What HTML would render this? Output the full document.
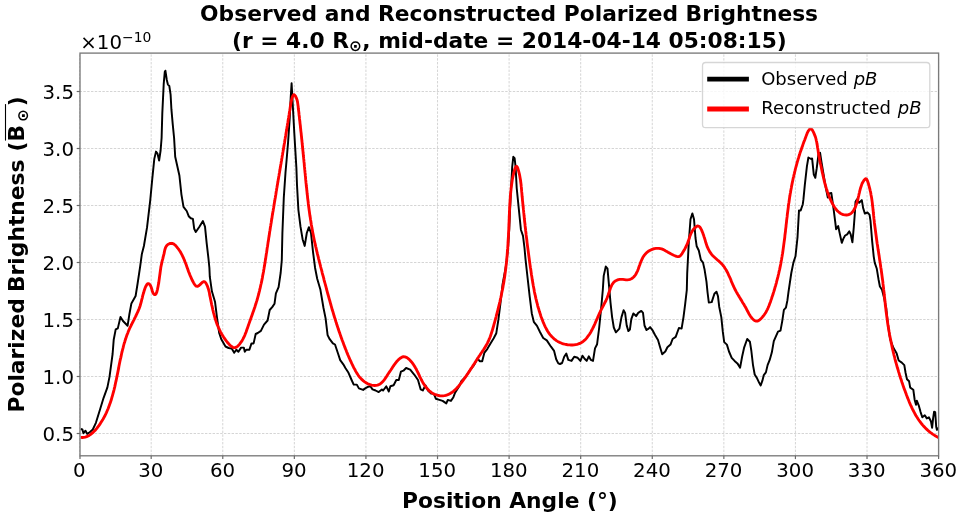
<!DOCTYPE html>
<html lang="en">
<head>
<meta charset="utf-8">
<title>Observed and Reconstructed Polarized Brightness</title>
<style>
html,body{margin:0;padding:0;background:#fff;}
body{width:960px;height:518px;overflow:hidden;}
svg{display:block;font-family:"DejaVu Sans","Liberation Sans",sans-serif;}
text{fill:#000;white-space:pre;}
.tk{font-size:19.8px;}
.lb{font-size:21.78px;font-weight:bold;}
.lg{font-size:18.0px;}
.it{font-style:italic;}
.rg{font-weight:normal;}
</style>
</head>
<body>
<svg width="960" height="518" viewBox="0 0 960 518">
<rect x="0" y="0" width="960" height="518" fill="#ffffff"/>
<g stroke="#b0b0b0" stroke-opacity="0.68" stroke-width="0.8" stroke-dasharray="2.4,1.4" fill="none">
<line x1="79.60" y1="455.8" x2="79.60" y2="53.1"/>
<line x1="151.18" y1="455.8" x2="151.18" y2="53.1"/>
<line x1="222.77" y1="455.8" x2="222.77" y2="53.1"/>
<line x1="294.35" y1="455.8" x2="294.35" y2="53.1"/>
<line x1="365.93" y1="455.8" x2="365.93" y2="53.1"/>
<line x1="437.52" y1="455.8" x2="437.52" y2="53.1"/>
<line x1="509.10" y1="455.8" x2="509.10" y2="53.1"/>
<line x1="580.68" y1="455.8" x2="580.68" y2="53.1"/>
<line x1="652.27" y1="455.8" x2="652.27" y2="53.1"/>
<line x1="723.85" y1="455.8" x2="723.85" y2="53.1"/>
<line x1="795.43" y1="455.8" x2="795.43" y2="53.1"/>
<line x1="867.02" y1="455.8" x2="867.02" y2="53.1"/>
<line x1="938.60" y1="455.8" x2="938.60" y2="53.1"/>
<line x1="79.6" y1="433.50" x2="938.6" y2="433.50"/>
<line x1="79.6" y1="376.50" x2="938.6" y2="376.50"/>
<line x1="79.6" y1="319.50" x2="938.6" y2="319.50"/>
<line x1="79.6" y1="262.50" x2="938.6" y2="262.50"/>
<line x1="79.6" y1="205.50" x2="938.6" y2="205.50"/>
<line x1="79.6" y1="148.50" x2="938.6" y2="148.50"/>
<line x1="79.6" y1="91.50" x2="938.6" y2="91.50"/>
</g>
<clipPath id="ax"><rect x="79.6" y="53.1" width="859" height="402.7"/></clipPath>
<g clip-path="url(#ax)" fill="none" stroke-linejoin="round" stroke-linecap="butt">
<path d="M80.7,429.0 L82.4,429.5 L83.4,433.2 L85.5,430.7 L87.2,433.9 L89.7,432.2 L92.8,429.5 L95.9,422.8 L100.1,409.3 L103.6,397.8 L107.4,387.4 L109.5,376.9 L111.2,364.4 L112.6,354.0 L113.7,339.8 L115.7,329.4 L117.8,328.4 L120.5,316.9 L123.0,321.0 L127.6,325.7 L129.3,314.8 L131.4,303.4 L135.6,296.0 L137.6,283.5 L140.1,266.9 L141.8,254.3 L143.9,246.0 L147.0,227.7 L150.2,200.6 L152.2,179.7 L154.3,158.9 L156.0,151.6 L157.5,153.6 L159.1,160.5 L160.6,150.5 L161.6,138.0 L162.3,113.4 L163.7,84.2 L164.8,71.7 L165.4,70.7 L166.8,80.0 L167.9,84.6 L169.3,85.9 L170.6,94.6 L171.4,109.2 L172.7,123.8 L174.1,138.0 L175.2,156.8 L179.4,175.5 L181.4,194.3 L183.5,206.8 L186.7,211.0 L188.7,216.2 L190.8,218.3 L192.9,218.9 L194.2,228.8 L195.8,232.0 L199.4,226.7 L202.9,221.1 L205.0,226.7 L206.7,243.4 L208.4,258.0 L209.4,268.0 L209.8,276.7 L211.9,291.3 L215.0,301.7 L217.1,318.4 L219.2,333.0 L221.3,339.2 L225.5,346.5 L228.6,348.0 L231.7,348.6 L234.2,352.8 L236.3,349.7 L238.4,351.8 L241.1,347.6 L243.8,347.6 L244.8,351.8 L246.3,349.7 L249.4,349.7 L251.5,343.4 L253.6,343.4 L255.7,334.0 L257.8,333.0 L260.9,330.9 L264.0,324.6 L267.6,320.5 L269.7,310.0 L272.4,306.9 L274.5,303.8 L275.9,293.4 L278.6,287.1 L280.7,272.5 L281.8,260.0 L282.4,233.0 L283.8,197.5 L285.5,172.5 L286.6,160.0 L288.0,143.4 L289.7,118.4 L290.7,97.5 L291.6,83.3 L292.6,101.7 L294.3,133.0 L296.4,168.0 L297.0,185.0 L298.4,210.0 L300.5,226.7 L302.6,239.2 L304.7,245.9 L306.8,233.0 L308.9,227.2 L311.0,233.0 L313.0,251.8 L315.1,268.0 L317.2,278.8 L320.3,289.2 L323.5,308.0 L325.6,318.4 L327.6,335.1 L329.7,339.2 L332.9,343.4 L335.0,344.5 L338.1,353.8 L340.2,360.1 L343.3,364.3 L345.4,368.0 L348.5,372.8 L351.6,380.0 L353.7,384.6 L356.8,384.6 L358.9,388.4 L363.1,389.9 L365.2,388.4 L368.3,386.7 L370.4,386.3 L372.5,389.4 L375.6,390.5 L378.7,392.1 L381.9,389.4 L383.1,390.5 L386.3,386.3 L388.8,391.5 L390.4,386.3 L393.6,385.3 L396.3,380.0 L398.8,380.0 L400.9,371.7 L403.4,370.7 L406.1,368.0 L410.2,369.6 L414.4,374.8 L418.0,380.0 L420.7,389.4 L422.8,390.5 L425.5,385.3 L428.0,390.5 L431.1,393.6 L433.8,393.6 L435.9,398.8 L439.4,399.9 L442.6,400.9 L446.3,403.4 L447.8,399.9 L450.9,400.9 L453.4,397.2 L455.1,392.6 L459.2,386.3 L461.3,381.1 L465.5,376.9 L469.7,370.7 L473.8,365.5 L477.6,358.2 L479.7,361.3 L482.2,361.3 L484.3,352.9 L487.4,348.8 L490.5,343.6 L493.7,338.3 L496.3,333.2 L498.4,319.7 L500.5,303.0 L502.6,284.2 L505.7,267.5 L507.8,250.9 L509.2,230.0 L510.5,200.0 L512.2,167.0 L513.3,156.8 L514.6,158.2 L515.6,167.0 L516.7,188.0 L518.8,208.8 L520.9,229.7 L523.0,235.9 L524.5,248.0 L525.5,259.2 L527.6,278.0 L529.7,296.7 L531.8,313.4 L533.8,321.8 L537.0,325.9 L540.1,332.2 L543.2,338.0 L546.8,340.4 L551.0,346.7 L554.1,350.9 L556.2,359.2 L558.3,363.4 L560.0,364.0 L562.1,363.0 L564.2,356.7 L566.3,353.6 L568.3,359.9 L571.5,360.9 L574.2,356.7 L577.7,357.8 L580.4,360.9 L582.5,355.7 L584.6,358.8 L586.7,360.9 L588.8,356.3 L590.9,359.9 L593.0,360.9 L595.0,348.4 L597.1,344.2 L599.2,327.5 L601.3,306.7 L602.8,290.0 L603.7,275.9 L605.8,266.5 L607.5,268.6 L608.9,284.2 L610.5,302.5 L612.1,317.1 L613.8,327.5 L615.9,332.3 L619.4,328.6 L621.5,317.1 L623.6,310.2 L625.1,312.9 L626.7,325.5 L628.4,331.1 L629.9,329.6 L631.3,319.2 L633.4,313.4 L636.1,316.1 L638.2,312.9 L641.3,310.9 L643.0,312.9 L644.5,325.5 L646.5,330.0 L648.6,328.6 L650.1,327.1 L652.8,330.7 L654.9,334.8 L658.0,340.0 L660.1,347.3 L662.2,354.2 L665.3,351.5 L667.4,347.3 L670.5,344.6 L672.6,339.0 L675.7,336.9 L678.9,328.0 L681.6,328.6 L683.5,317.1 L685.1,304.6 L686.8,290.0 L687.2,273.4 L688.8,242.1 L690.5,219.2 L692.4,213.4 L694.0,219.2 L695.5,238.0 L696.7,246.3 L698.8,250.5 L700.9,259.9 L703.0,262.6 L704.5,269.2 L706.5,281.8 L707.5,292.0 L708.8,302.5 L711.7,302.1 L714.4,293.8 L716.5,291.7 L718.0,296.3 L719.2,306.7 L721.3,317.1 L722.8,331.7 L724.2,342.1 L726.9,344.6 L729.0,351.5 L731.7,357.8 L734.6,360.9 L737.4,363.4 L740.1,367.6 L742.1,356.7 L744.2,347.3 L747.2,339.0 L749.9,341.7 L751.3,350.5 L753.0,365.1 L754.7,374.5 L757.2,378.6 L759.2,382.8 L760.7,385.5 L762.4,380.7 L763.8,375.1 L765.9,372.4 L767.6,365.1 L769.7,359.9 L771.8,352.6 L773.8,341.1 L775.9,336.3 L778.0,331.7 L780.5,330.7 L782.2,321.3 L783.9,309.8 L785.9,307.7 L787.4,300.4 L788.5,291.8 L791.3,273.0 L793.4,262.6 L795.5,256.3 L797.5,237.5 L799.0,210.4 L800.7,210.4 L802.8,204.2 L803.4,199.7 L804.8,185.1 L806.9,166.3 L808.4,157.5 L811.1,159.0 L812.1,158.4 L813.8,174.7 L815.3,177.8 L816.7,168.4 L818.4,154.8 L820.1,152.8 L821.5,162.1 L823.6,174.7 L825.7,187.2 L827.8,197.6 L829.2,193.4 L831.3,193.0 L832.6,201.8 L834.0,212.2 L835.1,220.9 L836.1,229.2 L838.2,226.1 L839.7,233.4 L841.8,242.8 L843.4,238.6 L845.1,235.5 L847.2,234.4 L849.3,231.3 L850.7,234.4 L852.4,242.3 L853.8,227.1 L854.9,212.5 L855.5,201.8 L857.0,199.3 L859.1,202.8 L861.8,200.1 L863.2,208.3 L864.9,213.6 L867.4,212.5 L869.5,214.6 L870.5,220.9 L872.2,241.7 L873.7,256.3 L874.7,262.6 L876.8,268.8 L878.5,279.2 L879.9,286.5 L882.0,289.7 L884.1,298.0 L886.2,308.0 L887.5,320.0 L889.0,332.0 L890.3,339.6 L893.5,348.0 L896.6,353.2 L898.7,360.5 L901.8,362.6 L904.3,365.1 L905.6,373.0 L907.0,379.2 L909.1,381.3 L910.2,387.6 L913.3,389.7 L914.7,400.0 L916.0,404.8 L916.8,400.7 L918.9,405.9 L920.6,412.1 L922.3,417.3 L924.8,415.3 L926.8,418.4 L928.9,417.3 L931.0,421.5 L932.1,427.8 L933.1,418.4 L934.1,411.7 L935.2,412.1 L936.2,426.7 L936.9,429.9 L938.3,427.8" stroke="#000000" stroke-width="1.95"/>
<path d="M80.7,437.4 L82.3,437.5 L83.8,437.3 L85.2,437.1 L86.6,436.6 L87.9,436.1 L89.2,435.4 L90.4,434.6 L91.6,433.7 L92.8,432.7 L93.9,431.6 L95.0,430.5 L96.0,429.3 L97.0,428.1 L97.9,426.9 L98.9,425.6 L99.8,424.4 L100.6,423.1 L101.4,421.8 L102.2,420.5 L103.0,419.2 L103.7,417.9 L104.5,416.6 L105.1,415.3 L105.8,413.9 L106.4,412.6 L107.0,411.2 L107.6,409.8 L108.2,408.5 L108.7,407.1 L109.2,405.7 L109.7,404.3 L110.2,402.9 L110.7,401.5 L111.2,400.1 L111.6,398.7 L112.0,397.2 L112.4,395.8 L112.8,394.4 L113.2,392.9 L113.6,391.5 L114.0,390.0 L114.3,388.6 L114.7,387.1 L115.0,385.6 L115.3,384.2 L115.6,382.7 L116.0,381.2 L116.3,379.8 L116.6,378.3 L116.9,376.8 L117.2,375.3 L117.5,373.9 L117.8,372.4 L118.1,370.9 L118.4,369.4 L118.7,367.9 L118.9,366.5 L119.2,365.0 L119.5,363.5 L119.8,362.0 L120.1,360.5 L120.4,359.1 L120.8,357.6 L121.1,356.1 L121.4,354.7 L121.7,353.2 L122.1,351.7 L122.4,350.3 L122.8,348.8 L123.2,347.4 L123.5,346.0 L123.9,344.5 L124.3,343.1 L124.8,341.7 L125.2,340.2 L125.7,338.8 L126.1,337.4 L126.6,336.0 L127.1,334.6 L127.7,333.2 L128.2,331.8 L128.8,330.4 L129.4,329.0 L130.0,327.7 L130.7,326.3 L131.3,325.0 L132.0,323.6 L132.7,322.3 L133.4,320.9 L134.1,319.6 L134.7,318.2 L135.4,316.9 L136.1,315.5 L136.7,314.2 L137.3,312.8 L138.0,311.4 L138.5,310.1 L139.1,308.7 L139.6,307.3 L140.1,305.9 L140.5,304.5 L140.9,303.1 L141.3,301.7 L141.6,300.2 L142.0,298.8 L142.4,297.3 L142.7,295.8 L143.1,294.4 L143.6,292.8 L144.0,291.3 L144.5,289.8 L145.0,288.3 L145.6,286.8 L146.3,285.5 L147.0,284.3 L147.8,283.6 L148.7,283.6 L149.6,284.3 L150.5,285.6 L151.2,287.3 L151.8,289.2 L152.3,291.0 L152.9,292.7 L153.6,293.9 L154.5,294.6 L155.4,294.5 L156.1,293.7 L156.7,292.4 L157.1,290.8 L157.5,289.3 L157.8,287.7 L158.1,286.2 L158.4,284.6 L158.7,283.1 L158.9,281.6 L159.1,280.1 L159.3,278.6 L159.5,277.1 L159.7,275.6 L159.9,274.2 L160.1,272.7 L160.3,271.2 L160.5,269.8 L160.7,268.4 L160.9,266.9 L161.2,265.5 L161.5,264.1 L161.8,262.6 L162.1,261.2 L162.5,259.8 L162.9,258.4 L163.2,256.9 L163.6,255.4 L164.0,253.9 L164.3,252.4 L164.6,250.8 L165.0,249.2 L165.5,247.7 L166.2,246.3 L167.1,245.1 L168.4,244.2 L169.8,243.5 L171.2,243.3 L172.6,243.5 L173.9,244.1 L175.0,245.0 L176.1,246.1 L177.1,247.3 L178.0,248.5 L178.9,249.7 L179.8,251.0 L180.6,252.3 L181.3,253.6 L182.0,254.9 L182.7,256.3 L183.3,257.6 L183.9,259.0 L184.5,260.4 L185.0,261.8 L185.6,263.2 L186.1,264.6 L186.6,266.0 L187.1,267.4 L187.6,268.8 L188.1,270.3 L188.6,271.7 L189.2,273.1 L189.7,274.5 L190.3,275.9 L190.9,277.2 L191.5,278.6 L192.1,280.0 L192.8,281.3 L193.5,282.6 L194.3,284.0 L195.2,285.3 L196.2,286.2 L197.4,286.4 L198.6,285.8 L200.0,284.7 L201.3,283.3 L202.6,282.2 L203.8,281.6 L204.9,281.9 L205.8,282.9 L206.6,284.4 L207.3,285.8 L207.8,287.2 L208.3,288.7 L208.7,290.1 L209.1,291.5 L209.4,292.9 L209.6,294.4 L209.9,295.9 L210.2,297.3 L210.5,298.8 L210.8,300.3 L211.1,301.8 L211.4,303.3 L211.7,304.8 L212.1,306.3 L212.4,307.8 L212.7,309.3 L213.1,310.8 L213.4,312.3 L213.8,313.7 L214.2,315.1 L214.6,316.6 L215.0,318.0 L215.4,319.4 L215.9,320.8 L216.3,322.2 L216.8,323.5 L217.3,324.9 L217.9,326.2 L218.5,327.6 L219.1,328.9 L219.7,330.2 L220.4,331.6 L221.1,332.9 L221.8,334.2 L222.6,335.5 L223.4,336.8 L224.3,338.1 L225.2,339.4 L226.1,340.7 L227.1,342.0 L228.2,343.2 L229.3,344.5 L230.4,345.6 L231.6,346.6 L232.8,347.3 L234.0,347.6 L235.2,347.6 L236.3,347.2 L237.5,346.4 L238.6,345.3 L239.6,344.1 L240.5,342.9 L241.4,341.7 L242.2,340.4 L242.9,339.1 L243.6,337.7 L244.3,336.4 L244.9,335.0 L245.4,333.6 L246.0,332.2 L246.5,330.8 L247.0,329.3 L247.5,327.9 L248.0,326.5 L248.5,325.1 L249.0,323.6 L249.5,322.2 L250.0,320.8 L250.5,319.4 L251.0,318.0 L251.5,316.6 L252.0,315.2 L252.5,313.7 L253.0,312.3 L253.5,310.9 L254.0,309.5 L254.5,308.1 L255.0,306.7 L255.4,305.2 L255.9,303.8 L256.3,302.4 L256.8,300.9 L257.2,299.5 L257.6,298.1 L258.0,296.6 L258.4,295.2 L258.8,293.7 L259.1,292.3 L259.5,290.8 L259.8,289.4 L260.2,287.9 L260.5,286.5 L260.8,285.0 L261.2,283.5 L261.5,282.1 L261.8,280.6 L262.1,279.1 L262.4,277.7 L262.6,276.2 L262.9,274.7 L263.2,273.3 L263.5,271.8 L263.7,270.3 L264.0,268.8 L264.2,267.3 L264.5,265.9 L264.7,264.4 L265.0,262.9 L265.2,261.4 L265.4,259.9 L265.7,258.4 L265.9,256.9 L266.1,255.5 L266.3,254.0 L266.6,252.5 L266.8,251.0 L267.0,249.5 L267.2,248.0 L267.5,246.5 L267.7,245.1 L267.9,243.6 L268.1,242.1 L268.4,240.6 L268.6,239.1 L268.8,237.6 L269.1,236.1 L269.3,234.7 L269.5,233.2 L269.7,231.7 L270.0,230.2 L270.2,228.7 L270.4,227.2 L270.7,225.8 L270.9,224.3 L271.2,222.8 L271.4,221.3 L271.6,219.8 L271.9,218.4 L272.1,216.9 L272.3,215.4 L272.6,213.9 L272.8,212.4 L273.1,211.0 L273.3,209.5 L273.6,208.0 L273.8,206.5 L274.0,205.0 L274.3,203.6 L274.5,202.1 L274.8,200.6 L275.0,199.1 L275.3,197.7 L275.5,196.2 L275.8,194.7 L276.0,193.2 L276.2,191.7 L276.5,190.3 L276.7,188.8 L277.0,187.3 L277.2,185.8 L277.5,184.4 L277.7,182.9 L278.0,181.4 L278.2,179.9 L278.5,178.4 L278.7,177.0 L279.0,175.5 L279.2,174.0 L279.5,172.5 L279.7,171.1 L280.0,169.6 L280.2,168.1 L280.5,166.6 L280.7,165.1 L281.0,163.7 L281.2,162.2 L281.5,160.7 L281.7,159.2 L282.0,157.8 L282.2,156.3 L282.5,154.8 L282.7,153.3 L283.0,151.8 L283.2,150.4 L283.5,148.9 L283.7,147.4 L284.0,145.9 L284.2,144.4 L284.5,143.0 L284.7,141.5 L284.9,140.0 L285.2,138.5 L285.4,137.0 L285.7,135.5 L285.9,134.1 L286.2,132.6 L286.4,131.1 L286.7,129.6 L286.9,128.1 L287.1,126.6 L287.4,125.2 L287.6,123.7 L287.9,122.2 L288.1,120.7 L288.3,119.2 L288.6,117.7 L288.8,116.3 L289.1,114.8 L289.3,113.3 L289.5,111.8 L289.8,110.3 L290.0,108.9 L290.2,107.4 L290.5,105.9 L290.7,104.5 L290.9,103.0 L291.2,101.5 L291.5,100.1 L291.9,98.5 L292.4,96.9 L293.0,95.5 L293.7,94.6 L294.6,95.0 L295.5,96.2 L296.3,97.8 L296.9,99.4 L297.3,100.9 L297.6,102.4 L297.8,103.9 L298.0,105.4 L298.2,106.8 L298.3,108.3 L298.5,109.8 L298.7,111.3 L298.9,112.7 L299.0,114.2 L299.2,115.7 L299.4,117.2 L299.5,118.7 L299.7,120.2 L299.9,121.7 L300.0,123.1 L300.2,124.6 L300.4,126.1 L300.5,127.6 L300.7,129.1 L300.8,130.6 L301.0,132.1 L301.2,133.6 L301.3,135.1 L301.5,136.5 L301.6,138.0 L301.8,139.5 L301.9,141.0 L302.1,142.5 L302.2,144.0 L302.4,145.5 L302.5,147.0 L302.7,148.5 L302.8,150.0 L303.0,151.5 L303.1,153.0 L303.3,154.5 L303.4,156.0 L303.6,157.5 L303.7,158.9 L303.9,160.4 L304.0,161.9 L304.2,163.4 L304.3,164.9 L304.4,166.4 L304.6,167.9 L304.7,169.4 L304.9,170.9 L305.0,172.4 L305.2,173.9 L305.3,175.4 L305.5,176.9 L305.6,178.4 L305.7,179.9 L305.9,181.4 L306.0,182.9 L306.2,184.3 L306.3,185.8 L306.5,187.3 L306.7,188.8 L306.8,190.3 L307.0,191.8 L307.1,193.3 L307.3,194.8 L307.5,196.3 L307.6,197.8 L307.8,199.2 L308.0,200.7 L308.2,202.2 L308.3,203.7 L308.5,205.2 L308.7,206.7 L308.9,208.2 L309.1,209.7 L309.3,211.1 L309.5,212.6 L309.7,214.1 L309.9,215.6 L310.2,217.1 L310.4,218.6 L310.6,220.0 L310.9,221.5 L311.1,223.0 L311.3,224.5 L311.6,226.0 L311.8,227.4 L312.1,228.9 L312.4,230.4 L312.6,231.9 L312.9,233.3 L313.2,234.8 L313.5,236.3 L313.8,237.8 L314.1,239.2 L314.4,240.7 L314.7,242.2 L315.1,243.6 L315.4,245.1 L315.7,246.6 L316.1,248.0 L316.4,249.5 L316.7,251.0 L317.1,252.4 L317.4,253.9 L317.8,255.4 L318.2,256.8 L318.5,258.3 L318.9,259.8 L319.2,261.2 L319.6,262.7 L320.0,264.1 L320.4,265.6 L320.7,267.0 L321.1,268.5 L321.5,269.9 L321.9,271.4 L322.2,272.8 L322.6,274.3 L323.0,275.7 L323.4,277.2 L323.8,278.6 L324.1,280.1 L324.5,281.5 L324.9,283.0 L325.3,284.4 L325.7,285.9 L326.1,287.3 L326.4,288.7 L326.8,290.2 L327.2,291.6 L327.6,293.1 L328.0,294.5 L328.4,295.9 L328.8,297.4 L329.2,298.8 L329.6,300.2 L330.0,301.7 L330.4,303.1 L330.8,304.5 L331.2,306.0 L331.6,307.4 L332.0,308.8 L332.4,310.3 L332.9,311.7 L333.3,313.1 L333.7,314.5 L334.1,316.0 L334.6,317.4 L335.0,318.8 L335.5,320.3 L335.9,321.7 L336.4,323.1 L336.8,324.6 L337.3,326.0 L337.8,327.4 L338.2,328.8 L338.7,330.3 L339.2,331.7 L339.7,333.1 L340.2,334.6 L340.7,336.0 L341.2,337.4 L341.7,338.8 L342.2,340.3 L342.8,341.7 L343.3,343.1 L343.8,344.6 L344.4,346.0 L344.9,347.4 L345.5,348.9 L346.1,350.3 L346.6,351.7 L347.2,353.1 L347.8,354.6 L348.4,356.0 L349.0,357.4 L349.6,358.8 L350.2,360.2 L350.9,361.5 L351.5,362.9 L352.1,364.2 L352.8,365.6 L353.4,366.9 L354.1,368.2 L354.8,369.4 L355.4,370.7 L356.1,371.9 L356.8,373.1 L357.6,374.3 L358.4,375.5 L359.2,376.6 L360.2,377.8 L361.2,378.9 L362.3,379.9 L363.4,380.9 L364.7,381.9 L366.0,382.7 L367.3,383.5 L368.7,384.2 L370.2,384.7 L371.6,385.1 L373.1,385.4 L374.6,385.5 L376.1,385.4 L377.5,385.1 L378.9,384.6 L380.2,383.9 L381.4,382.9 L382.6,381.8 L383.6,380.6 L384.6,379.3 L385.6,377.9 L386.5,376.6 L387.3,375.3 L388.1,374.0 L388.9,372.8 L389.7,371.6 L390.5,370.5 L391.3,369.3 L392.1,368.1 L392.9,366.8 L393.7,365.6 L394.6,364.3 L395.5,363.1 L396.5,361.8 L397.5,360.7 L398.6,359.6 L399.8,358.5 L401.0,357.7 L402.3,357.0 L403.6,356.7 L405.0,356.8 L406.3,357.3 L407.6,358.1 L408.8,359.1 L410.0,360.3 L411.1,361.5 L412.1,362.7 L413.0,363.9 L413.9,365.2 L414.7,366.5 L415.4,367.7 L416.2,369.0 L416.8,370.4 L417.5,371.7 L418.1,373.0 L418.8,374.4 L419.4,375.7 L420.0,377.1 L420.7,378.4 L421.4,379.8 L422.1,381.1 L422.8,382.4 L423.6,383.7 L424.4,385.0 L425.3,386.3 L426.2,387.5 L427.1,388.6 L428.2,389.7 L429.2,390.8 L430.4,391.7 L431.6,392.6 L432.8,393.4 L434.2,394.1 L435.6,394.7 L437.1,395.2 L438.6,395.5 L440.1,395.8 L441.6,395.9 L443.0,395.8 L444.5,395.7 L445.8,395.4 L447.2,394.9 L448.5,394.4 L449.8,393.8 L451.0,393.0 L452.2,392.2 L453.4,391.3 L454.5,390.3 L455.6,389.3 L456.7,388.2 L457.8,387.0 L458.8,385.9 L459.8,384.6 L460.8,383.4 L461.8,382.1 L462.7,380.9 L463.6,379.6 L464.5,378.4 L465.4,377.1 L466.3,375.9 L467.1,374.6 L468.0,373.4 L468.8,372.1 L469.6,370.9 L470.4,369.6 L471.2,368.4 L472.0,367.2 L472.8,365.9 L473.6,364.7 L474.4,363.5 L475.2,362.2 L476.0,361.0 L476.8,359.8 L477.6,358.5 L478.4,357.3 L479.2,356.0 L480.1,354.8 L480.9,353.5 L481.8,352.2 L482.7,350.9 L483.5,349.7 L484.3,348.4 L485.2,347.1 L485.9,345.8 L486.7,344.5 L487.4,343.1 L488.0,341.8 L488.7,340.5 L489.2,339.1 L489.8,337.7 L490.3,336.4 L490.8,335.0 L491.3,333.6 L491.7,332.2 L492.2,330.8 L492.6,329.4 L493.0,328.0 L493.4,326.6 L493.8,325.2 L494.2,323.7 L494.6,322.3 L495.0,320.9 L495.4,319.4 L495.8,318.0 L496.2,316.5 L496.5,315.0 L496.9,313.6 L497.3,312.1 L497.7,310.6 L498.1,309.2 L498.4,307.7 L498.8,306.2 L499.2,304.7 L499.5,303.2 L499.9,301.8 L500.2,300.3 L500.5,298.8 L500.9,297.3 L501.2,295.8 L501.5,294.3 L501.8,292.8 L502.1,291.3 L502.4,289.9 L502.7,288.4 L503.0,286.9 L503.2,285.4 L503.5,283.9 L503.8,282.4 L504.0,281.0 L504.2,279.5 L504.5,278.0 L504.7,276.5 L504.9,275.0 L505.1,273.6 L505.3,272.1 L505.5,270.6 L505.7,269.1 L505.9,267.6 L506.0,266.2 L506.2,264.7 L506.4,263.2 L506.5,261.7 L506.7,260.2 L506.8,258.8 L506.9,257.3 L507.1,255.8 L507.2,254.3 L507.3,252.9 L507.4,251.4 L507.5,249.9 L507.7,248.4 L507.8,246.9 L507.9,245.4 L508.0,243.9 L508.0,242.5 L508.1,241.0 L508.2,239.5 L508.3,238.0 L508.4,236.5 L508.5,235.0 L508.5,233.5 L508.6,232.0 L508.7,230.5 L508.8,229.0 L508.8,227.5 L508.9,226.0 L508.9,224.5 L509.0,223.0 L509.1,221.5 L509.1,220.0 L509.2,218.4 L509.2,216.9 L509.3,215.4 L509.4,213.9 L509.4,212.4 L509.5,210.9 L509.6,209.3 L509.6,207.8 L509.7,206.3 L509.8,204.8 L509.9,203.3 L510.0,201.8 L510.1,200.3 L510.2,198.8 L510.3,197.3 L510.4,195.8 L510.5,194.3 L510.7,192.8 L510.8,191.4 L511.0,189.9 L511.1,188.4 L511.3,187.0 L511.5,185.5 L511.7,184.1 L511.9,182.6 L512.1,181.2 L512.3,179.8 L512.6,178.3 L512.9,176.8 L513.2,175.3 L513.6,173.7 L514.0,172.1 L514.4,170.4 L514.9,168.8 L515.5,167.4 L516.0,166.5 L516.6,166.3 L517.2,166.9 L517.7,168.0 L518.2,169.6 L518.7,171.4 L519.2,173.3 L519.6,175.1 L519.9,176.8 L520.2,178.5 L520.5,180.1 L520.7,181.7 L520.9,183.2 L521.1,184.7 L521.2,186.2 L521.4,187.6 L521.5,189.1 L521.6,190.5 L521.7,191.9 L521.9,193.4 L522.0,194.8 L522.1,196.3 L522.3,197.7 L522.4,199.2 L522.5,200.6 L522.7,202.1 L522.8,203.6 L523.0,205.0 L523.1,206.5 L523.3,208.0 L523.4,209.4 L523.6,210.9 L523.7,212.4 L523.9,213.9 L524.0,215.3 L524.2,216.8 L524.3,218.3 L524.5,219.8 L524.6,221.3 L524.8,222.7 L525.0,224.2 L525.1,225.7 L525.3,227.2 L525.5,228.7 L525.6,230.2 L525.8,231.7 L526.0,233.2 L526.1,234.7 L526.3,236.1 L526.5,237.6 L526.7,239.1 L526.9,240.6 L527.0,242.1 L527.2,243.6 L527.4,245.1 L527.6,246.6 L527.8,248.1 L528.0,249.6 L528.2,251.1 L528.4,252.6 L528.6,254.1 L528.8,255.6 L529.0,257.1 L529.2,258.6 L529.4,260.1 L529.6,261.6 L529.8,263.1 L530.0,264.6 L530.2,266.0 L530.4,267.5 L530.7,269.0 L530.9,270.5 L531.1,272.0 L531.3,273.5 L531.5,275.0 L531.8,276.5 L532.0,277.9 L532.2,279.4 L532.5,280.9 L532.7,282.4 L533.0,283.9 L533.2,285.3 L533.5,286.8 L533.8,288.3 L534.1,289.8 L534.3,291.2 L534.6,292.7 L534.9,294.2 L535.3,295.6 L535.6,297.1 L535.9,298.6 L536.3,300.0 L536.6,301.5 L537.0,302.9 L537.4,304.4 L537.7,305.8 L538.1,307.3 L538.6,308.7 L539.0,310.1 L539.4,311.6 L539.9,313.0 L540.4,314.4 L540.8,315.9 L541.3,317.3 L541.9,318.7 L542.4,320.1 L542.9,321.5 L543.5,322.9 L544.1,324.3 L544.7,325.7 L545.4,327.1 L546.1,328.4 L546.8,329.7 L547.5,331.0 L548.3,332.2 L549.1,333.4 L550.0,334.6 L551.0,335.7 L551.9,336.8 L553.0,337.8 L554.0,338.8 L555.2,339.7 L556.4,340.6 L557.7,341.4 L559.0,342.1 L560.4,342.7 L561.8,343.3 L563.3,343.8 L564.8,344.2 L566.4,344.5 L567.9,344.8 L569.5,344.9 L571.0,345.0 L572.6,345.0 L574.1,344.9 L575.6,344.6 L577.0,344.3 L578.4,343.9 L579.8,343.4 L581.1,342.7 L582.3,342.0 L583.5,341.1 L584.6,340.2 L585.6,339.2 L586.6,338.1 L587.5,336.9 L588.4,335.7 L589.3,334.5 L590.1,333.2 L590.9,331.9 L591.6,330.5 L592.3,329.2 L593.0,327.8 L593.7,326.5 L594.3,325.1 L594.9,323.8 L595.5,322.4 L596.1,321.0 L596.7,319.6 L597.3,318.3 L597.9,316.9 L598.5,315.5 L599.1,314.1 L599.8,312.8 L600.4,311.4 L601.0,310.1 L601.7,308.7 L602.4,307.4 L603.1,306.0 L603.8,304.7 L604.5,303.3 L605.2,302.0 L605.9,300.7 L606.5,299.3 L607.1,298.0 L607.6,296.6 L608.1,295.2 L608.5,293.8 L609.0,292.4 L609.5,291.0 L610.0,289.5 L610.5,288.0 L611.1,286.6 L611.8,285.1 L612.6,283.8 L613.5,282.6 L614.5,281.6 L615.7,280.8 L617.0,280.2 L618.4,279.7 L619.9,279.4 L621.4,279.3 L622.9,279.4 L624.5,279.6 L626.0,279.8 L627.4,279.9 L628.8,279.7 L630.2,279.3 L631.4,278.7 L632.6,278.0 L633.7,277.0 L634.6,276.0 L635.5,274.8 L636.3,273.5 L636.9,272.2 L637.6,270.8 L638.2,269.3 L638.7,267.8 L639.2,266.3 L639.8,264.8 L640.3,263.3 L640.9,261.8 L641.5,260.4 L642.1,259.0 L642.8,257.6 L643.6,256.3 L644.4,255.1 L645.4,254.0 L646.4,252.9 L647.6,251.9 L648.8,251.0 L650.2,250.2 L651.6,249.6 L653.0,249.0 L654.5,248.6 L656.0,248.4 L657.5,248.3 L658.9,248.3 L660.3,248.6 L661.6,248.9 L662.9,249.4 L664.2,250.0 L665.4,250.7 L666.7,251.4 L668.0,252.2 L669.4,253.0 L670.8,253.8 L672.2,254.5 L673.7,255.2 L675.1,255.8 L676.5,256.3 L677.8,256.6 L679.0,256.6 L680.1,256.0 L681.1,254.9 L682.1,253.6 L683.0,252.1 L683.9,250.6 L684.7,249.2 L685.4,247.8 L686.1,246.5 L686.7,245.2 L687.3,243.9 L687.8,242.5 L688.3,241.1 L688.8,239.7 L689.3,238.3 L689.7,236.9 L690.2,235.4 L690.8,234.0 L691.4,232.7 L692.1,231.3 L692.9,230.1 L693.8,228.9 L694.9,227.8 L696.1,226.8 L697.4,226.0 L698.6,226.1 L699.7,226.9 L700.7,228.3 L701.5,229.8 L702.1,231.4 L702.7,232.8 L703.2,234.2 L703.7,235.6 L704.1,236.9 L704.6,238.3 L705.0,239.7 L705.4,241.2 L705.8,242.6 L706.3,244.0 L706.8,245.5 L707.3,246.9 L707.9,248.3 L708.6,249.6 L709.3,250.9 L710.0,252.2 L710.9,253.4 L711.8,254.6 L712.8,255.7 L713.9,256.7 L715.0,257.7 L716.1,258.7 L717.2,259.7 L718.3,260.7 L719.5,261.7 L720.6,262.7 L721.6,263.8 L722.6,264.9 L723.5,266.0 L724.4,267.2 L725.2,268.5 L726.0,269.7 L726.7,271.0 L727.4,272.3 L728.1,273.7 L728.7,275.1 L729.3,276.4 L730.0,277.8 L730.6,279.2 L731.1,280.6 L731.7,282.1 L732.3,283.5 L732.9,284.9 L733.5,286.3 L734.2,287.6 L734.8,289.0 L735.5,290.3 L736.2,291.6 L737.0,293.0 L737.7,294.3 L738.5,295.5 L739.2,296.8 L740.0,298.1 L740.8,299.4 L741.6,300.6 L742.3,301.9 L743.1,303.2 L743.9,304.4 L744.6,305.7 L745.4,307.0 L746.1,308.3 L746.8,309.7 L747.5,311.0 L748.2,312.3 L748.9,313.7 L749.7,315.0 L750.5,316.3 L751.4,317.5 L752.4,318.7 L753.6,319.8 L754.8,320.7 L756.1,321.1 L757.4,321.1 L758.7,320.5 L760.0,319.6 L761.2,318.4 L762.3,317.2 L763.3,316.0 L764.2,314.8 L765.1,313.5 L765.9,312.2 L766.6,310.9 L767.3,309.6 L767.9,308.3 L768.5,306.9 L769.1,305.5 L769.6,304.1 L770.1,302.7 L770.6,301.4 L771.1,299.9 L771.6,298.5 L772.0,297.1 L772.5,295.7 L773.0,294.3 L773.4,292.9 L773.9,291.4 L774.3,290.0 L774.7,288.6 L775.1,287.1 L775.6,285.7 L776.0,284.2 L776.4,282.8 L776.7,281.3 L777.1,279.9 L777.5,278.4 L777.9,276.9 L778.2,275.5 L778.6,274.0 L778.9,272.5 L779.2,271.1 L779.6,269.6 L779.9,268.1 L780.2,266.6 L780.5,265.2 L780.8,263.7 L781.0,262.2 L781.3,260.7 L781.6,259.3 L781.8,257.8 L782.1,256.3 L782.3,254.8 L782.6,253.3 L782.8,251.8 L783.0,250.4 L783.2,248.9 L783.4,247.4 L783.6,245.9 L783.8,244.4 L784.0,242.9 L784.2,241.4 L784.4,240.0 L784.6,238.5 L784.8,237.0 L784.9,235.5 L785.1,234.0 L785.3,232.5 L785.5,231.0 L785.6,229.5 L785.8,228.1 L786.0,226.6 L786.1,225.1 L786.3,223.6 L786.5,222.1 L786.6,220.6 L786.8,219.1 L787.0,217.6 L787.2,216.2 L787.3,214.7 L787.5,213.2 L787.7,211.7 L787.9,210.2 L788.1,208.7 L788.3,207.3 L788.4,205.8 L788.6,204.3 L788.9,202.8 L789.1,201.3 L789.3,199.8 L789.5,198.4 L789.7,196.9 L790.0,195.4 L790.2,193.9 L790.5,192.5 L790.7,191.0 L791.0,189.5 L791.3,188.0 L791.5,186.6 L791.8,185.1 L792.1,183.6 L792.4,182.1 L792.7,180.7 L793.0,179.2 L793.3,177.7 L793.7,176.3 L794.0,174.8 L794.4,173.4 L794.7,171.9 L795.1,170.4 L795.4,169.0 L795.8,167.5 L796.2,166.1 L796.6,164.6 L797.0,163.2 L797.4,161.7 L797.8,160.3 L798.2,158.8 L798.7,157.4 L799.1,155.9 L799.6,154.5 L800.0,153.0 L800.5,151.6 L801.0,150.2 L801.5,148.7 L802.0,147.3 L802.5,145.9 L803.0,144.4 L803.5,143.0 L804.0,141.6 L804.6,140.2 L805.1,138.8 L805.6,137.4 L806.1,136.1 L806.6,134.7 L807.1,133.4 L807.7,132.1 L808.4,130.8 L809.4,129.5 L810.5,128.7 L811.5,129.0 L812.4,130.2 L813.2,131.6 L813.9,133.1 L814.5,134.6 L815.1,136.1 L815.6,137.5 L816.0,139.0 L816.3,140.5 L816.7,142.0 L816.9,143.4 L817.2,144.9 L817.4,146.3 L817.6,147.7 L817.9,149.2 L818.1,150.6 L818.3,152.1 L818.5,153.6 L818.8,155.1 L819.1,156.5 L819.4,158.0 L819.6,159.5 L819.9,161.0 L820.2,162.5 L820.5,164.0 L820.9,165.5 L821.2,167.0 L821.5,168.5 L821.8,170.0 L822.1,171.5 L822.4,172.9 L822.8,174.4 L823.1,175.9 L823.4,177.3 L823.7,178.7 L824.1,180.2 L824.4,181.6 L824.8,183.1 L825.2,184.5 L825.6,185.9 L826.0,187.3 L826.4,188.7 L826.9,190.1 L827.3,191.5 L827.8,192.9 L828.3,194.3 L828.8,195.7 L829.4,197.1 L830.0,198.5 L830.6,199.8 L831.2,201.2 L831.9,202.6 L832.6,204.0 L833.4,205.3 L834.2,206.7 L835.1,208.0 L836.0,209.3 L837.0,210.4 L838.1,211.5 L839.3,212.5 L840.5,213.4 L841.9,214.1 L843.3,214.6 L844.8,214.9 L846.4,215.0 L847.9,214.8 L849.3,214.4 L850.5,213.8 L851.5,213.0 L852.5,212.0 L853.3,210.9 L854.1,209.6 L854.8,208.3 L855.4,207.0 L855.9,205.6 L856.4,204.2 L856.9,202.7 L857.3,201.3 L857.7,199.8 L858.1,198.3 L858.4,196.8 L858.8,195.3 L859.1,193.8 L859.5,192.3 L859.8,190.8 L860.2,189.3 L860.6,187.8 L861.1,186.4 L861.6,184.9 L862.1,183.5 L862.8,182.2 L863.6,180.9 L864.5,179.7 L865.5,178.7 L866.4,178.8 L867.1,179.9 L867.6,181.3 L868.1,182.8 L868.6,184.3 L869.0,185.8 L869.4,187.3 L869.8,188.8 L870.1,190.3 L870.5,191.7 L870.8,193.2 L871.0,194.7 L871.3,196.2 L871.6,197.7 L871.8,199.1 L872.0,200.6 L872.2,202.1 L872.4,203.6 L872.5,205.1 L872.7,206.6 L872.9,208.0 L873.0,209.5 L873.2,211.0 L873.3,212.5 L873.5,214.0 L873.6,215.4 L873.8,216.9 L873.9,218.4 L874.1,219.9 L874.3,221.4 L874.4,222.9 L874.6,224.3 L874.8,225.8 L875.0,227.3 L875.2,228.8 L875.4,230.3 L875.6,231.8 L875.8,233.3 L876.0,234.7 L876.2,236.2 L876.4,237.7 L876.6,239.2 L876.8,240.7 L877.0,242.2 L877.2,243.7 L877.5,245.2 L877.7,246.7 L877.9,248.1 L878.1,249.6 L878.4,251.1 L878.6,252.6 L878.8,254.1 L879.1,255.6 L879.3,257.1 L879.5,258.6 L879.7,260.1 L880.0,261.6 L880.2,263.1 L880.4,264.5 L880.6,266.0 L880.8,267.5 L881.1,269.0 L881.3,270.5 L881.5,272.0 L881.7,273.5 L881.9,275.0 L882.1,276.5 L882.3,278.0 L882.5,279.5 L882.7,280.9 L882.9,282.4 L883.0,283.9 L883.2,285.4 L883.4,286.9 L883.6,288.4 L883.7,289.9 L883.9,291.4 L884.1,292.8 L884.2,294.3 L884.4,295.8 L884.5,297.3 L884.7,298.8 L884.9,300.3 L885.0,301.8 L885.2,303.2 L885.3,304.7 L885.5,306.2 L885.7,307.7 L885.9,309.2 L886.0,310.7 L886.2,312.1 L886.4,313.6 L886.6,315.1 L886.8,316.6 L887.0,318.1 L887.2,319.5 L887.4,321.0 L887.6,322.5 L887.8,324.0 L888.0,325.4 L888.3,326.9 L888.5,328.4 L888.8,329.9 L889.0,331.3 L889.3,332.8 L889.5,334.3 L889.8,335.7 L890.1,337.2 L890.4,338.7 L890.7,340.1 L891.0,341.6 L891.3,343.1 L891.6,344.5 L891.9,346.0 L892.2,347.5 L892.5,348.9 L892.9,350.4 L893.2,351.8 L893.6,353.3 L893.9,354.8 L894.3,356.2 L894.7,357.7 L895.0,359.1 L895.4,360.6 L895.8,362.0 L896.2,363.5 L896.6,364.9 L897.0,366.4 L897.4,367.8 L897.9,369.3 L898.3,370.7 L898.7,372.1 L899.2,373.6 L899.6,375.0 L900.1,376.5 L900.5,377.9 L901.0,379.3 L901.5,380.8 L901.9,382.2 L902.4,383.6 L902.9,385.1 L903.4,386.5 L903.9,387.9 L904.4,389.4 L905.0,390.8 L905.5,392.2 L906.0,393.6 L906.5,395.0 L907.1,396.5 L907.6,397.9 L908.2,399.3 L908.8,400.7 L909.3,402.1 L909.9,403.5 L910.5,404.9 L911.2,406.2 L911.8,407.6 L912.4,408.9 L913.1,410.3 L913.8,411.6 L914.5,412.9 L915.2,414.2 L915.9,415.5 L916.7,416.8 L917.5,418.0 L918.3,419.3 L919.1,420.5 L920.0,421.7 L920.9,422.9 L921.8,424.0 L922.7,425.1 L923.7,426.2 L924.7,427.3 L925.7,428.4 L926.8,429.4 L927.9,430.4 L929.0,431.3 L930.2,432.3 L931.4,433.2 L932.6,434.1 L933.9,434.9 L935.2,435.7 L936.6,436.5 L937.9,437.2 L938.7,437.2" stroke="#ff0000" stroke-width="2.85"/>
</g>
<rect x="80.0" y="53.1" width="858.60" height="402.70" fill="none" stroke="#7a7a7a" stroke-width="1.35"/>
<g stroke="#6a6a6a" stroke-width="1.2">
<line x1="80.00" y1="455.8" x2="80.00" y2="459.10"/>
<line x1="151.18" y1="455.8" x2="151.18" y2="459.10"/>
<line x1="222.77" y1="455.8" x2="222.77" y2="459.10"/>
<line x1="294.35" y1="455.8" x2="294.35" y2="459.10"/>
<line x1="365.93" y1="455.8" x2="365.93" y2="459.10"/>
<line x1="437.52" y1="455.8" x2="437.52" y2="459.10"/>
<line x1="509.10" y1="455.8" x2="509.10" y2="459.10"/>
<line x1="580.68" y1="455.8" x2="580.68" y2="459.10"/>
<line x1="652.27" y1="455.8" x2="652.27" y2="459.10"/>
<line x1="723.85" y1="455.8" x2="723.85" y2="459.10"/>
<line x1="795.43" y1="455.8" x2="795.43" y2="459.10"/>
<line x1="867.02" y1="455.8" x2="867.02" y2="459.10"/>
<line x1="938.60" y1="455.8" x2="938.60" y2="459.10"/>
<line x1="76.70" y1="433.50" x2="80.0" y2="433.50"/>
<line x1="76.70" y1="376.50" x2="80.0" y2="376.50"/>
<line x1="76.70" y1="319.50" x2="80.0" y2="319.50"/>
<line x1="76.70" y1="262.50" x2="80.0" y2="262.50"/>
<line x1="76.70" y1="205.50" x2="80.0" y2="205.50"/>
<line x1="76.70" y1="148.50" x2="80.0" y2="148.50"/>
<line x1="76.70" y1="91.50" x2="80.0" y2="91.50"/>
</g>
<g class="tk" text-anchor="middle">
<text x="79.30" y="476.8">0</text>
<text x="150.88" y="476.8">30</text>
<text x="222.47" y="476.8">60</text>
<text x="294.05" y="476.8">90</text>
<text x="365.63" y="476.8">120</text>
<text x="437.22" y="476.8">150</text>
<text x="508.80" y="476.8">180</text>
<text x="580.38" y="476.8">210</text>
<text x="651.97" y="476.8">240</text>
<text x="723.55" y="476.8">270</text>
<text x="795.13" y="476.8">300</text>
<text x="866.72" y="476.8">330</text>
<text x="938.30" y="476.8">360</text>
</g>
<g class="tk" text-anchor="end">
<text x="74.0" y="440.90">0.5</text>
<text x="74.0" y="383.90">1.0</text>
<text x="74.0" y="326.90">1.5</text>
<text x="74.0" y="269.90">2.0</text>
<text x="74.0" y="212.90">2.5</text>
<text x="74.0" y="155.90">3.0</text>
<text x="74.0" y="98.90">3.5</text>
</g>
<text class="tk" x="80.3" y="49.3">×10<tspan dy="-7.0" font-size="13.9px">−10</tspan></text>
<text class="lb" x="509.1" y="21.4" text-anchor="middle">Observed and Reconstructed Polarized Brightness</text>
<text class="lb" x="509.4" y="47.5" text-anchor="middle">(r = 4.0 R<tspan dx="0" dy="3.6" font-size="15.3px">⊙</tspan><tspan dx="0.5" dy="-3.6">, mid-date = 2014-04-14 05:08:15)</tspan></text>
<text class="lb" x="509.9" y="508.3" text-anchor="middle">Position Angle (°)</text>
<g transform="translate(24.2,412.5) rotate(-90)"><text class="lb" x="0" y="0">Polarized <tspan dx="-1.3">Brightness </tspan><tspan dx="0.4">(B</tspan><tspan dx="2.9" dy="3.6" font-size="15.3px">⊙</tspan><tspan dx="3.1" dy="-3.6">)</tspan></text><line x1="271.9" y1="-18.7" x2="308.4" y2="-18.7" stroke="#000" stroke-width="1.1"/></g>
<rect x="702.5" y="62.5" width="227.3" height="65.2" rx="3.2" ry="3.2" fill="#fff" fill-opacity="0.8" stroke="#cccccc" stroke-opacity="0.8" stroke-width="1.3"/>
<line x1="707.2" y1="79.2" x2="748.9" y2="79.2" stroke="#000" stroke-width="4.8"/>
<line x1="707.2" y1="109.0" x2="748.9" y2="109.0" stroke="#ff0000" stroke-width="4.8"/>
<text class="lg" x="761.2" y="84.6">Observed <tspan class="it" dx="0.1">pB</tspan></text>
<text class="lg" x="761.2" y="114.4">Reconstructed <tspan class="it" dx="1.0">pB</tspan></text>
</svg>
</body>
</html>
